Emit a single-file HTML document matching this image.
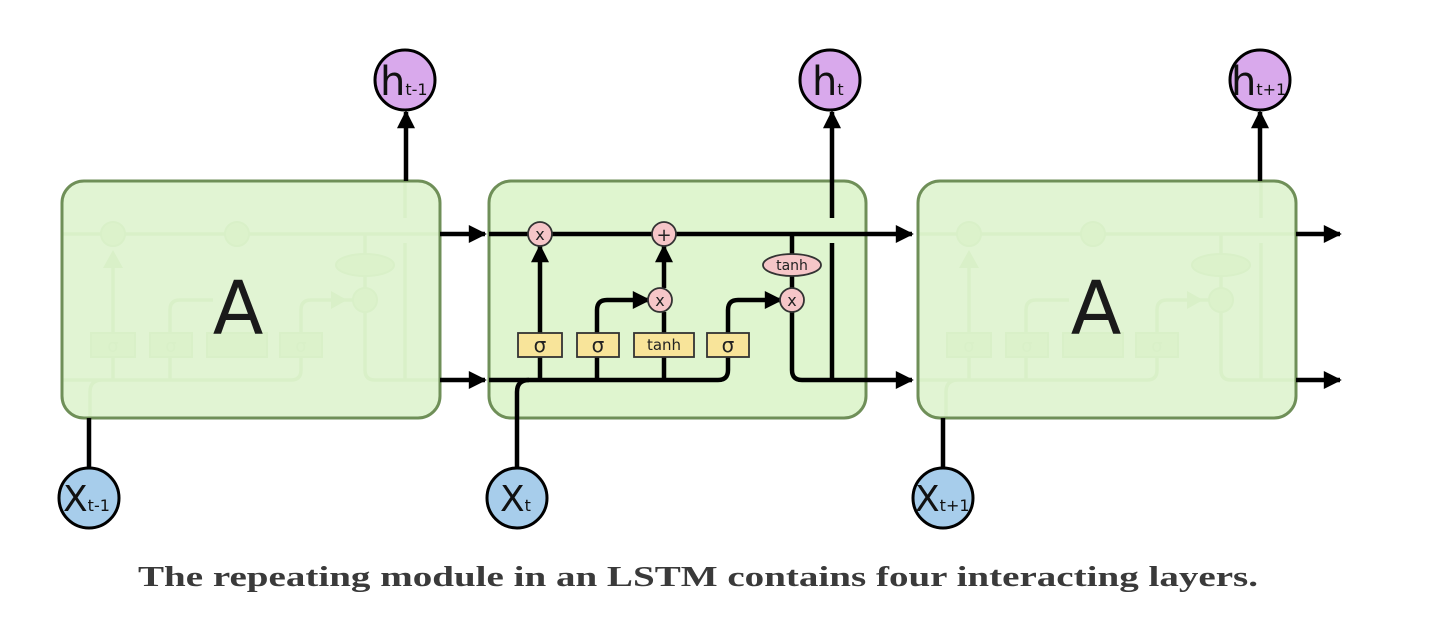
<!DOCTYPE html>
<html><head><meta charset="utf-8"><style>
html,body{margin:0;padding:0;background:#fff;}
svg{display:block;}
</style></head><body>
<svg width="1440" height="622" viewBox="0 0 1440 622" xmlns="http://www.w3.org/2000/svg" font-family="'DejaVu Sans','Liberation Sans',sans-serif">
<defs>
<marker id="ah" viewBox="0 0 10 10" refX="9" refY="5" markerWidth="4.2" markerHeight="4" orient="auto" markerUnits="strokeWidth"><path d="M0,0 L10,5 L0,10 z" fill="#000"/></marker>
</defs>

<!-- ghost interiors -->
<g stroke="#d4e9c7" fill="none" stroke-width="3.5">
 <g transform="translate(-427,0)">
  <path d="M489,234 H866 M489,380 H718 Q728,380 728,370 V310 Q728,300 738,300 H780 M517,418 V392 Q517,380 529,380 M540,380 V262 M597,380 V310 Q597,300 607,300 H640 M792,234 V370 Q792,380 802,380 H866 M832,380 V243 M832,218 V181"/>
  <path d="M540,250 l-10,18 h20z M774,300 l-16,-9 v18z" fill="#d4e9c7" stroke="none"/>
  <g stroke-width="2"><circle cx="540" cy="234" r="12" fill="#e4f4d8"/><circle cx="664" cy="234" r="12" fill="#e4f4d8"/><circle cx="792" cy="300" r="12" fill="#e4f4d8"/>
  <ellipse cx="792" cy="265" rx="29" ry="11" fill="#e4f4d8"/>
  <rect x="518" y="333" width="44" height="24" fill="#e4f4d8"/><rect x="577" y="333" width="42" height="24" fill="#e4f4d8"/><rect x="634" y="333" width="60" height="24" fill="#e4f4d8"/><rect x="707" y="333" width="42" height="24" fill="#e4f4d8"/></g>
 </g>
 <g transform="translate(429,0)">
  <path d="M489,234 H866 M489,380 H718 Q728,380 728,370 V310 Q728,300 738,300 H780 M517,418 V392 Q517,380 529,380 M540,380 V262 M597,380 V310 Q597,300 607,300 H640 M792,234 V370 Q792,380 802,380 H866 M832,380 V243 M832,218 V181"/>
  <path d="M540,250 l-10,18 h20z M774,300 l-16,-9 v18z" fill="#d4e9c7" stroke="none"/>
  <g stroke-width="2"><circle cx="540" cy="234" r="12" fill="#e4f4d8"/><circle cx="664" cy="234" r="12" fill="#e4f4d8"/><circle cx="792" cy="300" r="12" fill="#e4f4d8"/>
  <ellipse cx="792" cy="265" rx="29" ry="11" fill="#e4f4d8"/>
  <rect x="518" y="333" width="44" height="24" fill="#e4f4d8"/><rect x="577" y="333" width="42" height="24" fill="#e4f4d8"/><rect x="634" y="333" width="60" height="24" fill="#e4f4d8"/><rect x="707" y="333" width="42" height="24" fill="#e4f4d8"/></g>
 </g>
</g>
<g fill="#d4e9c7" text-anchor="middle" font-size="18">
 <text x="113" y="352">σ</text><text x="171" y="352">σ</text><text x="301" y="352">σ</text>
 <text x="969" y="352">σ</text><text x="1027" y="352">σ</text><text x="1157" y="352">σ</text>
</g>

<!-- side boxes -->
<rect x="62" y="181" width="378" height="237" rx="22" fill="#d9f1c8" fill-opacity="0.8" stroke="#6f8f58" stroke-width="3"/>
<rect x="918" y="181" width="378" height="237" rx="22" fill="#d9f1c8" fill-opacity="0.8" stroke="#6f8f58" stroke-width="3"/>
<text x="238" y="334" font-size="74" text-anchor="middle" fill="#1a1a1a">A</text>
<text x="1096" y="334" font-size="74" text-anchor="middle" fill="#1a1a1a">A</text>

<!-- middle box -->
<rect x="489" y="181" width="377" height="237" rx="22" fill="#dff5cf" stroke="#6f8f58" stroke-width="3"/>

<g fill="none" stroke="#000" stroke-width="4.5">
 <path d="M440,234 H485" marker-end="url(#ah)"/>
 <path d="M440,380 H485" marker-end="url(#ah)"/>
 <path d="M866,234 H912" marker-end="url(#ah)"/>
 <path d="M866,380 H912" marker-end="url(#ah)"/>
 <path d="M1296,234 H1340" marker-end="url(#ah)"/>
 <path d="M1296,380 H1340" marker-end="url(#ah)"/>
 <path d="M406,181 V112" marker-end="url(#ah)"/>
 <path d="M1260,181 V112" marker-end="url(#ah)"/>
 <path d="M832,181 V112" marker-end="url(#ah)"/>
 <path d="M89,467 V418"/>
 <path d="M943,467 V418"/>
 <path d="M517,467 V418"/>
 <path d="M489,234 H866"/>
 <path d="M489,380 H718 Q728,380 728,370 V310 Q728,300 738,300 H781" marker-end="url(#ah)"/>
 <path d="M517,418 V392 Q517,380 529,380"/>
 <path d="M540,380 V246" marker-end="url(#ah)"/>
 <path d="M597,380 V310 Q597,300 607,300 H649" marker-end="url(#ah)"/>
 <path d="M664,380 V312"/>
 <path d="M664,288 V246" marker-end="url(#ah)"/>
 <path d="M792,234 V312"/>
 <path d="M792,312 V370 Q792,380 802,380 H866"/>
 <path d="M832,380 V243"/>
 <path d="M832,218 V181"/>
</g>

<g stroke="#333" stroke-width="1.8">
 <circle cx="540" cy="234" r="12" fill="#f6c6c8"/>
 <circle cx="664" cy="234" r="12" fill="#f6c6c8"/>
 <circle cx="660" cy="300" r="12" fill="#f6c6c8"/>
 <circle cx="792" cy="300" r="12" fill="#f6c6c8"/>
 <ellipse cx="792" cy="265" rx="29" ry="11" fill="#f6c6c8"/>
 <rect x="518" y="333" width="44" height="24" fill="#f8e49a"/>
 <rect x="577" y="333" width="42" height="24" fill="#f8e49a"/>
 <rect x="634" y="333" width="60" height="24" fill="#f8e49a"/>
 <rect x="707" y="333" width="42" height="24" fill="#f8e49a"/>
</g>
<g fill="#222" text-anchor="middle">
 <text x="540" y="240" font-size="16">x</text>
 <text x="664" y="241" font-size="18">+</text>
 <text x="660" y="306" font-size="16">x</text>
 <text x="792" y="306" font-size="16">x</text>
 <text x="792" y="270" font-size="14">tanh</text>
 <text x="540" y="352" font-size="20">σ</text>
 <text x="598" y="352" font-size="20">σ</text>
 <text x="664" y="350" font-size="15">tanh</text>
 <text x="728" y="352" font-size="20">σ</text>
</g>

<g stroke="#000" stroke-width="3" fill="#d9a9ec">
 <circle cx="405" cy="80" r="30"/>
 <circle cx="830" cy="80" r="30"/>
 <circle cx="1260" cy="80" r="30"/>
</g>
<g fill="#111">
 <text x="380" y="95" font-size="40">h<tspan font-size="16">t-1</tspan></text>
 <text x="812" y="95" font-size="40">h<tspan font-size="16">t</tspan></text>
 <text x="1231" y="95" font-size="40">h<tspan font-size="16">t+1</tspan></text>
</g>
<g stroke="#000" stroke-width="3" fill="#a7cdeb">
 <circle cx="89" cy="498" r="30"/>
 <circle cx="517" cy="498" r="30"/>
 <circle cx="943" cy="498" r="30"/>
</g>
<g fill="#111">
 <text x="63" y="511" font-size="36">X<tspan font-size="16">t-1</tspan></text>
 <text x="500" y="511" font-size="36">X<tspan font-size="16">t</tspan></text>
 <text x="915" y="511" font-size="36">X<tspan font-size="16">t+1</tspan></text>
</g>

<text x="138" y="586" font-family="'Liberation Serif',serif" font-weight="bold" font-size="29" fill="#3a3a3a" textLength="1120" lengthAdjust="spacingAndGlyphs">The repeating module in an LSTM contains four interacting layers.</text>
</svg>
</body></html>
